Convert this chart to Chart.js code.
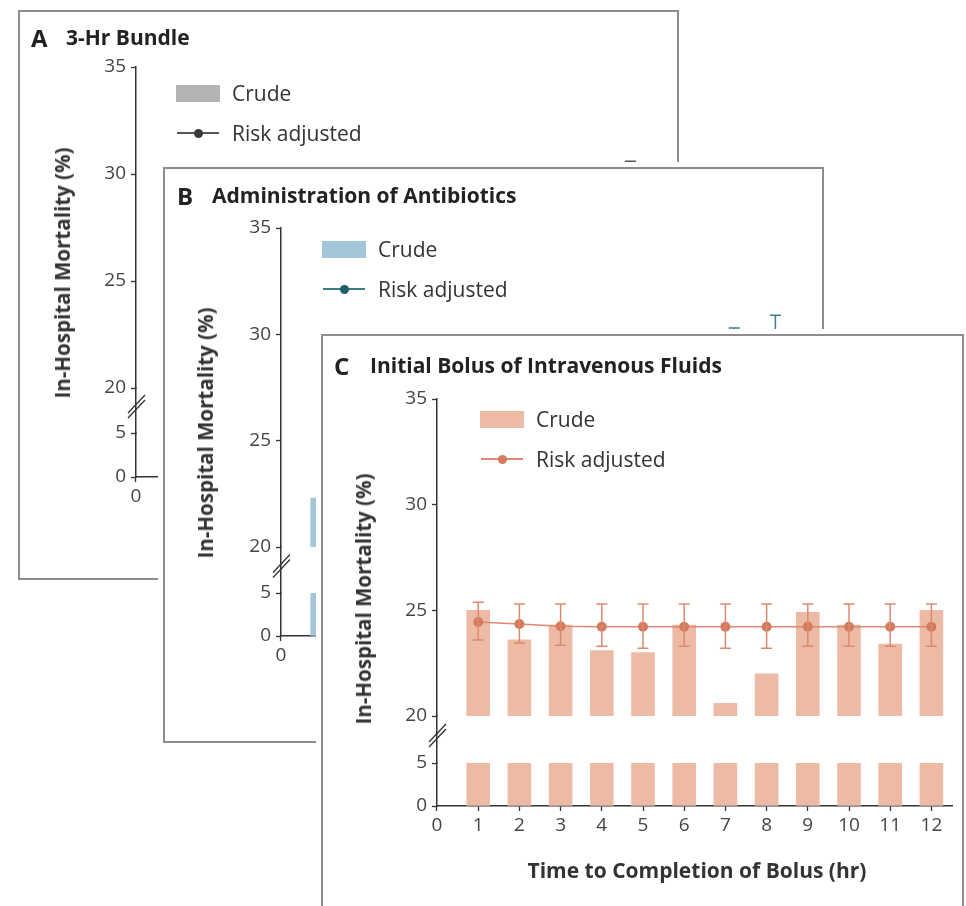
<!DOCTYPE html>
<html>
<head>
<meta charset="utf-8">
<script src="https://cdn.jsdelivr.net/npm/chart.js@4.4.0/dist/chart.umd.min.js"></script>
<style>
  body { margin: 0; background: #fff; }
  #stage { position: relative; width: 966px; height: 906px; overflow: hidden; font-family: 'Open Sans', sans-serif; }
  .panel { position: absolute; background: #fff; border: 2px solid #8d8d8d; box-sizing: border-box; box-shadow: 0 0 0 5px #fff; }
  .panel canvas { position: absolute; left: 0; top: 0; }
  .letter { position: absolute; font-weight: bold; font-size: 24px; color: #222; transform: translateY(-50%); white-space: nowrap; }
  .ttl { position: absolute; font-weight: bold; font-size: 21px; color: #222; transform: translateY(-50%); white-space: nowrap; }
  .ylab { position: absolute; font-weight: bold; font-size: 20.5px; color: #333; transform: translate(-50%, -50%) rotate(-90deg); white-space: nowrap; }
  .xlab { position: absolute; font-weight: bold; font-size: 21px; color: #333; transform: translate(-50%, -50%); white-space: nowrap; }
  .legtxt { position: absolute; font-size: 21px; color: #333; transform: translateY(-50%); white-space: nowrap; }
  .swatch { position: absolute; width: 44px; height: 17px; }
  .legline { position: absolute; width: 42px; height: 2px; }
  .legdot { position: absolute; width: 9px; height: 9px; border-radius: 50%; }
</style>
</head>
<body>
<div id="stage"></div>
<script>
// x categories (hours)
const hours = [1, 2, 3, 4, 5, 6, 7, 8, 9, 10, 11, 12];
const upperRange = [20, 35];
const lowerRange = [0, 5];

// A - 3-hr bundle (mostly hidden behind B)
const crudeA = [21.6, 22.4, 23.1, 23.7, 24.2, 24.6, 25.0, 25.3, 25.7, 26.0, 26.2, 26.8];
const adjA = [22.4, 22.7, 23.0, 23.3, 23.6, 23.9, 24.2, 24.5, 24.8, 25.1, 25.5, 26.6];
const adjALow = [21.8, 22.1, 22.3, 22.5, 22.7, 22.9, 23.0, 23.1, 23.1, 23.0, 23.0, 22.6];
const adjAHigh = [23.0, 23.3, 23.7, 24.1, 24.5, 24.9, 25.4, 25.9, 26.5, 27.2, 28.0, 30.6];

// B - administration of antibiotics (mostly hidden behind C)
const crudeB = [22.3, 23.0, 23.8, 24.4, 25.0, 25.4, 25.9, 26.2, 26.6, 26.9, 26.5, 27.5];
const adjB = [23.0, 23.3, 23.7, 24.1, 24.5, 24.8, 25.2, 25.6, 26.0, 26.5, 27.4, 27.8];
const adjBLow = [22.3, 22.6, 22.9, 23.2, 23.5, 23.7, 23.9, 24.2, 24.4, 24.6, 24.6, 24.8];
const adjBHigh = [23.8, 24.1, 24.6, 25.1, 25.6, 26.0, 26.5, 27.0, 27.6, 28.4, 30.3, 30.9];

// C - initial bolus of intravenous fluids
const crudeC = [25.0, 23.6, 24.3, 23.1, 23.0, 24.3, 20.6, 22.0, 24.9, 24.3, 23.4, 25.0];
const adjC = [24.45, 24.35, 24.25, 24.22, 24.22, 24.22, 24.22, 24.22, 24.22, 24.22, 24.22, 24.22];
const adjCLow = [23.6, 23.45, 23.35, 23.3, 23.2, 23.3, 23.2, 23.2, 23.3, 23.3, 23.3, 23.3];
const adjCHigh = [25.38, 25.3, 25.3, 25.3, 25.3, 25.3, 25.3, 25.3, 25.3, 25.3, 25.3, 25.3];

Chart.defaults.font.family = "'Open Sans', sans-serif";

const axisCol = '#333';
const tickCol = '#444';
const Y_W = 40;
const X_H = 40;

const panels = [
  { letter: 'A', title: '3-Hr Bundle', xTitle: 'Time to Completion of 3-Hr Bundle (hr)',
    box: [18, 10, 661, 570], axisX: 136, y35: 67, y20: 388, y5: 433, y0: 477, xEnd: 651,
    letterPos: [31, 37], titleX: 66, ylab: [62, 273], legend: [176, 85], xlab: [396, 541],
    bar: '#b4b4b4', line: '#555', dot: '#3a3a3a',
    crude: crudeA, adj: adjA, lo: adjALow, hi: adjAHigh },
  { letter: 'B', title: 'Administration of Antibiotics', xTitle: 'Time to Administration of Antibiotics (hr)',
    box: [163, 167, 661, 576], axisX: 281, y35: 228, y20: 547, y5: 593, y0: 636, xEnd: 796,
    letterPos: [177, 195], titleX: 212, ylab: [205, 433], legend: [322, 241], xlab: [541, 700],
    bar: '#a3c6d8', line: '#3c7c86', dot: '#1e6169',
    crude: crudeB, adj: adjB, lo: adjBLow, hi: adjBHigh },
  { letter: 'C', title: 'Initial Bolus of Intravenous Fluids', xTitle: 'Time to Completion of Bolus (hr)',
    box: [321, 334, 643, 580], axisX: 437, y35: 399, y20: 716, y5: 763, y0: 806, xEnd: 952,
    letterPos: [334, 365], titleX: 370, ylab: [363, 599], legend: [480, 411], xlab: [697, 870],
    bar: '#edbba5', line: '#db8a6e', dot: '#d47b5d',
    crude: crudeC, adj: adjC, lo: adjCLow, hi: adjCHigh }
];

// error bars drawn through the chart's own scales
const errorBars = {
  id: 'errorBars',
  afterDatasetsDraw(chart, args, opts) {
    const { ctx } = chart;
    const xs = chart.scales.x, ys = chart.scales.yTop;
    ctx.save();
    ctx.strokeStyle = opts.color;
    ctx.lineWidth = 1.5;
    opts.lo.forEach((lo, i) => {
      const x = xs.getPixelForValue(hours[i]);
      const y1 = ys.getPixelForValue(lo), y2 = ys.getPixelForValue(opts.hi[i]);
      ctx.beginPath();
      ctx.moveTo(x, y1); ctx.lineTo(x, y2);
      ctx.moveTo(x - 5.5, y1); ctx.lineTo(x + 5.5, y1);
      ctx.moveTo(x - 5.5, y2); ctx.lineTo(x + 5.5, y2);
      ctx.stroke();
    });
    ctx.restore();
  }
};

// the // mark on the broken y axis
const axisBreak = {
  id: 'axisBreak',
  afterDraw(chart) {
    const g = chart.scales.yGap;
    const x = g.right, mid = (g.top + g.bottom) / 2 - 4;
    const ctx = chart.ctx;
    ctx.save();
    ctx.strokeStyle = axisCol;
    ctx.lineWidth = 1.3;
    [-2.5, 2.5].forEach(d => {
      ctx.beginPath();
      ctx.moveTo(x - 8, mid + 9 + d);
      ctx.lineTo(x + 9, mid - 9 + d);
      ctx.stroke();
    });
    ctx.restore();
  }
};

function place(el, p, x, y) {
  el.style.left = (x - p.box[0] - 2) + 'px';
  el.style.top = (y - p.box[1] - 2) + 'px';
}

function addEl(div, p, cls, text, x, y) {
  const el = document.createElement('div');
  el.className = cls;
  if (text) el.textContent = text;
  place(el, p, x, y);
  div.appendChild(el);
  return el;
}

function buildPanel(p) {
  const div = document.createElement('div');
  div.className = 'panel';
  div.style.left = p.box[0] + 'px';
  div.style.top = p.box[1] + 'px';
  div.style.width = p.box[2] + 'px';
  div.style.height = p.box[3] + 'px';
  document.getElementById('stage').appendChild(div);

  const cw = p.box[2] - 4, ch = p.box[3] - 4;
  const ox = p.box[0] + 2, oy = p.box[1] + 2;
  const canvas = document.createElement('canvas');
  canvas.width = cw; canvas.height = ch;
  canvas.style.width = cw + 'px'; canvas.style.height = ch + 'px';
  div.appendChild(canvas);

  const area = { left: p.axisX - ox, top: p.y35 - oy, right: p.xEnd - ox, bottom: p.y0 - oy };

  const yCommon = {
    type: 'linear', position: 'left', stack: 'y',
    afterFit: s => { s.width = Y_W; },
    grid: { drawOnChartArea: false, drawTicks: true, tickLength: 5, color: axisCol, tickWidth: 1.3 },
    border: { color: axisCol, width: 1.5 },
    ticks: { stepSize: 5, autoSkip: false, color: tickCol, font: { size: 19 }, padding: 5 }
  };

  new Chart(canvas, {
    data: {
      datasets: [
        { type: 'bar', label: 'Crude', xAxisID: 'x', yAxisID: 'yTop', grouped: false, order: 2,
          data: hours.map((h, i) => ({ x: h, y: [upperRange[0], p.crude[i]] })),
          backgroundColor: p.bar, barThickness: 23 },
        { type: 'bar', label: 'Crude (lower)', xAxisID: 'x', yAxisID: 'yBot', grouped: false, order: 2,
          data: hours.map((h, i) => ({ x: h, y: [lowerRange[0], Math.min(p.crude[i], lowerRange[1])] })),
          backgroundColor: p.bar, barThickness: 23 },
        { type: 'line', label: 'Risk adjusted', xAxisID: 'x', yAxisID: 'yTop', order: 0,
          data: hours.map((h, i) => ({ x: h, y: p.adj[i] })),
          borderColor: p.line, borderWidth: 1.5, pointRadius: 5,
          pointBackgroundColor: p.dot, pointBorderColor: p.dot, pointBorderWidth: 0 }
      ]
    },
    options: {
      responsive: false,
      animation: false,
      layout: { padding: { left: area.left - Y_W, top: area.top, right: cw - area.right, bottom: ch - area.bottom - X_H } },
      plugins: {
        legend: { display: false },
        tooltip: { enabled: false },
        errorBars: { lo: p.lo, hi: p.hi, color: p.line }
      },
      scales: {
        x: {
          type: 'linear', position: 'bottom', min: 0, max: 12.5, offset: false,
          afterFit: s => { s.height = X_H; },
          grid: { drawOnChartArea: false, drawTicks: true, tickLength: 5, color: axisCol, tickWidth: 1.3, offset: false },
          border: { color: axisCol, width: 1.5 },
          ticks: { stepSize: 1, includeBounds: false, color: tickCol, font: { size: 19 }, padding: 3, maxRotation: 0, autoSkip: false }
        },
        yTop: Object.assign({}, yCommon, { weight: 3, stackWeight: p.y20 - p.y35, min: upperRange[0], max: upperRange[1] }),
        yGap: Object.assign({}, yCommon, { weight: 2, stackWeight: p.y5 - p.y20, min: 0, max: 1,
          grid: { display: false }, ticks: { display: false } }),
        yBot: Object.assign({}, yCommon, { weight: 1, stackWeight: p.y0 - p.y5, min: lowerRange[0], max: lowerRange[1] })
      }
    },
    plugins: [errorBars, axisBreak]
  });

  addEl(div, p, 'letter', p.letter, p.letterPos[0], p.letterPos[1]);
  addEl(div, p, 'ttl', p.title, p.titleX, p.letterPos[1]);
  addEl(div, p, 'ylab', 'In-Hospital Mortality (%)', p.ylab[0], p.ylab[1]);
  addEl(div, p, 'xlab', p.xTitle, p.xlab[0], p.xlab[1]);

  // legend
  const [lx, ly] = p.legend;
  addEl(div, p, 'swatch', '', lx, ly).style.background = p.bar;
  addEl(div, p, 'legtxt', 'Crude', lx + 56, ly + 8);
  addEl(div, p, 'legline', '', lx + 1, ly + 47).style.background = p.line;
  addEl(div, p, 'legdot', '', lx + 18, ly + 43.5).style.background = p.dot;
  addEl(div, p, 'legtxt', 'Risk adjusted', lx + 56, ly + 48);
}

panels.forEach(buildPanel);
</script>
</body>
</html>
